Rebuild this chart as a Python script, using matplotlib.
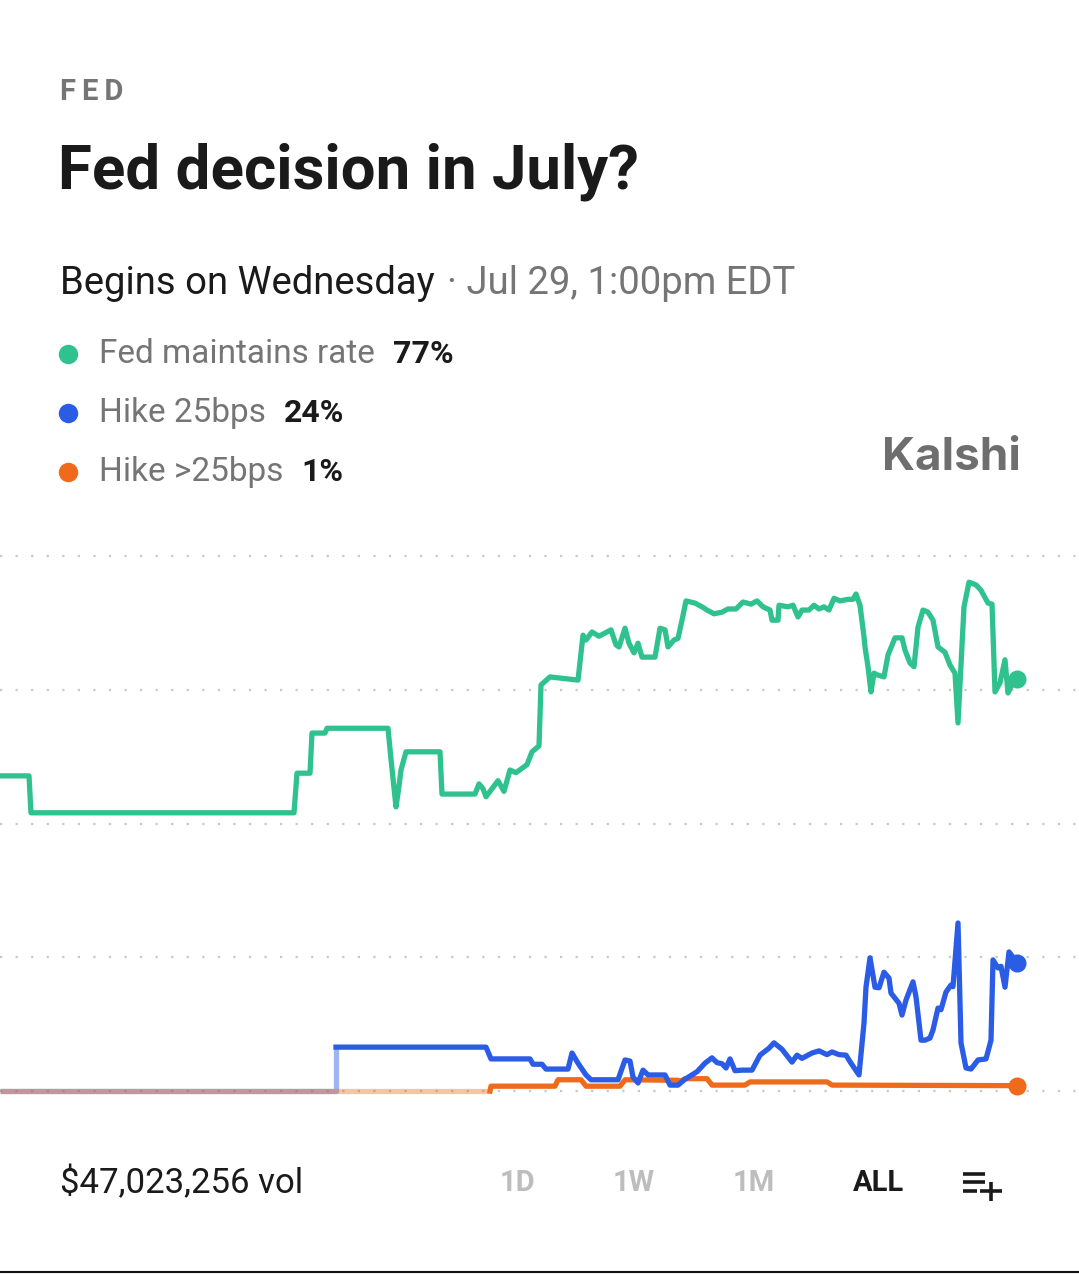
import matplotlib.pyplot as plt
from matplotlib.lines import Line2D

W, H = 1079, 1274

# market series, x = time position along the chart, y = chance in %
green_t = [0, 29, 31, 294, 297, 310, 312, 325, 327, 388, 391, 396, 399, 401, 406, 440, 442,
           475, 479, 483, 486, 498, 504, 510, 516, 527, 532, 539, 541, 550, 578, 583, 586,
           592, 599, 604, 611, 616, 619, 625, 629, 634, 638, 642, 655, 660, 665, 668, 674,
           678, 682, 686, 695, 702, 707, 714, 722, 728, 736, 743, 751, 757, 763, 770, 772,
           778, 779, 788, 793, 798, 802, 809, 814, 819, 824, 829, 834, 840, 848, 853, 856,
           860, 864, 865, 868, 871, 874, 877, 884, 888, 895, 902, 905, 910, 914, 918, 923,
           928, 933, 938, 945, 950, 955, 958, 964, 969, 976, 981, 988, 992, 995, 1000, 1005,
           1008, 1012, 1017]
green_pct = [58.9, 58.9, 52.0, 52.0, 59.4, 59.4, 66.9, 66.9, 67.8, 67.8, 62.0, 53.1, 57.0,
             60.0, 63.4, 63.4, 55.5, 55.5, 57.4, 56.5, 55.0, 58.0, 56.0, 60.0, 59.5, 61.0,
             63.4, 64.5, 75.9, 77.4, 76.8, 85.2, 84.3, 85.8, 85.0, 85.5, 86.2, 83.4, 83.0,
             86.5, 83.7, 81.9, 83.7, 81.1, 81.1, 86.5, 86.2, 83.0, 84.3, 84.6, 88.0, 91.6,
             91.2, 90.5, 89.9, 89.2, 89.5, 90.1, 90.1, 91.4, 91.0, 91.6, 90.5, 89.9, 88.0,
             88.0, 90.8, 90.5, 90.8, 88.6, 89.9, 89.9, 90.8, 90.1, 90.5, 89.9, 92.1, 91.6,
             91.9, 91.9, 92.9, 90.8, 84.9, 83.0, 79.3, 74.6, 78.1, 77.8, 77.4, 81.5, 84.7,
             84.7, 82.4, 80.0, 79.3, 86.7, 89.9, 89.5, 88.0, 83.0, 82.0, 79.6, 78.1, 68.8,
             90.5, 95.1, 94.6, 93.6, 91.2, 91.0, 74.6, 76.3, 80.6, 74.4, 76.0, 77.0]

blue_t = [336, 336, 486, 491, 530, 533, 542, 546, 568, 572, 578, 586, 591, 618, 625, 630,
          633, 638, 643, 648, 665, 670, 678, 685, 697, 705, 712, 717, 722, 726, 730, 735,
          742, 752, 760, 769, 774, 782, 792, 797, 802, 812, 819, 827, 832, 839, 846, 851,
          859, 864, 866, 870, 875, 879, 884, 889, 891, 899, 902, 906, 913, 916, 921, 925,
          930, 933, 938, 941, 946, 951, 953, 958, 961, 966, 971, 978, 986, 991, 993, 998,
          1001, 1005, 1009, 1017]
blue_pct = [0.0, 8.2, 8.2, 6.0, 6.0, 5.0, 5.0, 4.1, 4.1, 7.1, 5.2, 3.0, 2.1, 2.1, 5.8, 5.6,
            2.6, 1.5, 3.9, 3.0, 3.0, 1.1, 1.1, 2.2, 3.6, 5.2, 6.2, 5.3, 5.1, 4.3, 6.0, 3.8,
            3.9, 3.9, 6.7, 8.0, 9.0, 7.8, 5.4, 6.7, 6.1, 7.1, 7.5, 6.8, 7.3, 6.8, 6.7, 5.2,
            3.0, 12.7, 19.4, 24.9, 19.4, 19.3, 22.2, 21.1, 18.3, 16.4, 14.2, 17.0, 20.4, 17.6,
            9.5, 9.5, 9.9, 11.4, 15.5, 15.2, 18.5, 19.8, 19.5, 31.4, 9.0, 4.3, 4.1, 5.8,
            6.0, 9.5, 24.5, 23.0, 23.3, 19.4, 26.0, 24.0]

orange_t = [490, 491, 555, 558, 581, 586, 620, 625, 678, 680, 685, 707, 712, 745, 750, 827,
            832, 1017]
orange_pct = [0.0, 0.9, 0.9, 2.1, 2.1, 0.9, 0.9, 2.1, 2.0, 1.8, 2.3, 2.3, 1.1, 1.1, 1.7,
              1.7, 1.1, 1.0]

names = ["Fed maintains rate", "Hike 25bps", "Hike >25bps"]
chances = ["77%", "24%", "1%"]
grid_levels = [0, 25, 50, 75, 100]
ranges = ["1D", "1W", "1M", "ALL"]
volume = "$47,023,256 vol"

GREEN = "#2fc28f"
BLUE = "#2a5ce6"
ORANGE = "#f06a1c"
GRAY = "#757575"

fig = plt.figure(figsize=(W / 100, H / 100), dpi=100)
fig.patch.set_facecolor("white")


def fx(x):
    return x / W


def fy(y):
    return 1 - y / H


sans = ["Roboto", "DejaVu Sans"]

fig.text(fx(60), fy(92), "F\u2009E\u2009D", fontsize=21, fontweight="bold", color=GRAY,
         family=sans, va="center", ha="left")
fig.text(fx(58), fy(172), "Fed decision in July?", fontsize=44.5, fontweight="bold",
         color="#1a1a1a", family=sans, va="center", ha="left")

renderer = fig.canvas.get_renderer()
t1 = fig.text(fx(60), fy(284), "Begins on Wednesday", fontsize=27.5, color="#1a1a1a",
              family=sans, va="center", ha="left")
bb = t1.get_window_extent(renderer)
fig.text(fx(bb.x1 + 12), fy(284), "· Jul 29, 1:00pm EDT", fontsize=27.5, color=GRAY,
         family=sans, va="center", ha="left")

colors = [GREEN, BLUE, ORANGE]
for i, (nm, ch, c) in enumerate(zip(names, chances, colors)):
    yy = 354 + i * 59
    fig.add_artist(Line2D([fx(68)], [fy(yy)], marker="o", markersize=14, color=c,
                          markeredgewidth=0, transform=fig.transFigure))
    t = fig.text(fx(99), fy(yy), nm, fontsize=24, color=GRAY, family=sans,
                 va="center", ha="left")
    b = t.get_window_extent(renderer)
    fig.text(fx(b.x1 + 18), fy(yy), ch, fontsize=23, fontweight="bold", color="#1a1a1a",
             family=sans, va="center", ha="left")

fig.text(fx(1021), fy(458), "Kalshi", fontsize=33, fontweight="bold", color="#6e6e6e",
         family=["Inter", "Roboto", "DejaVu Sans"], va="center", ha="right")

# chart area: 0% at y=1091px, 100% at y=556px
ax = fig.add_axes([0, fy(1091), 1, (1091 - 556) / H])
ax.set_xlim(0, W)
ax.set_ylim(0, 100)
ax.axis("off")

for lv in grid_levels:
    ax.axhline(lv, color="#c8c8c8", lw=1.6, ls=(0, (1, 6)), zorder=1, clip_on=False)

LW = 3.8
# faded stretches before each market started trading
ax.plot([0, 336, 336], [0, 0, 8.2], color=BLUE, lw=LW, alpha=0.45, zorder=2,
        solid_capstyle="butt", clip_on=False)
ax.plot([0, 490], [0, 0], color=ORANGE, lw=LW, alpha=0.4, zorder=2,
        solid_capstyle="butt", clip_on=False)

ax.plot(orange_t, orange_pct, color=ORANGE, lw=LW, zorder=3, clip_on=False,
        solid_joinstyle="round")
ax.plot(blue_t[1:], blue_pct[1:], color=BLUE, lw=LW, zorder=4, clip_on=False,
        solid_joinstyle="round")
ax.plot(green_t, green_pct, color=GREEN, lw=LW, zorder=5, clip_on=False,
        solid_joinstyle="round")

for t_, p_, c in [(green_t, green_pct, GREEN), (blue_t, blue_pct, BLUE),
                  (orange_t, orange_pct, ORANGE)]:
    ax.plot(t_[-1], p_[-1], "o", color=c, ms=13, mew=0, zorder=6, clip_on=False)

# bottom bar
fig.text(fx(60), fy(1183), volume, fontsize=25, color="#1a1a1a", family=sans,
         va="center", ha="left")
for lab, xc in zip(ranges, [517, 634, 754, 878]):
    active = lab == "ALL"
    fig.text(fx(xc), fy(1183), lab, fontsize=21, fontweight="bold",
             color="#1a1a1a" if active else "#bdbdbd", family=sans,
             va="center", ha="center")

for (x0, x1, yy) in [(963, 985, 1174), (963, 985, 1182), (963, 977, 1191), (980, 1002, 1191)]:
    fig.add_artist(Line2D([fx(x0), fx(x1)], [fy(yy), fy(yy)], color="#1a1a1a", lw=2.6,
                          transform=fig.transFigure, solid_capstyle="butt"))
fig.add_artist(Line2D([fx(991), fx(991)], [fy(1182), fy(1201)], color="#1a1a1a", lw=2.6,
                      transform=fig.transFigure, solid_capstyle="butt"))

fig.add_artist(Line2D([0, 1], [fy(1272), fy(1272)], color="#111111", lw=1.5,
                      transform=fig.transFigure))

fig.savefig("out.png", dpi=100, facecolor="white")
